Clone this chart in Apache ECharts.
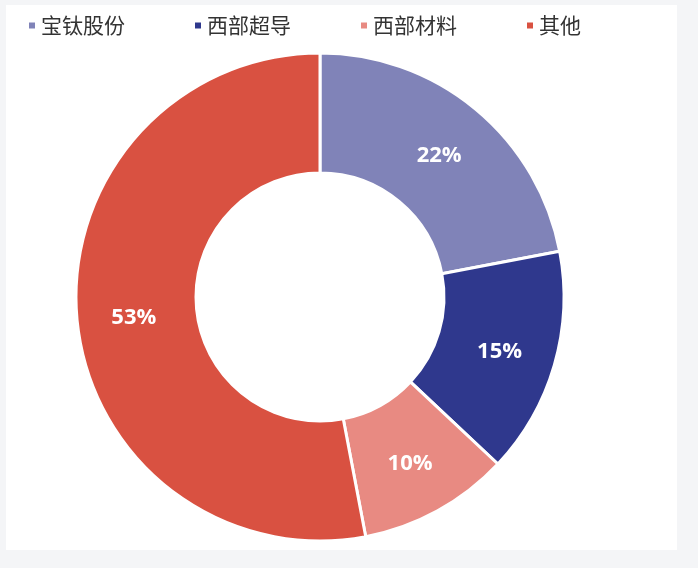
<!DOCTYPE html>
<html>
<head>
<meta charset="utf-8">
<script src="https://cdn.jsdelivr.net/npm/echarts@6/dist/echarts.min.js"></script>
<style>
  html, body { margin: 0; padding: 0; background: #f4f5f7; }
  #main { width: 698px; height: 568px; }
</style>
</head>
<body>
<div id="main"></div>
<script>
var categories = ['宝钛股份', '西部超导', '西部材料', '其他'];
var shares = [22, 15, 10, 53];
var colors = ['#8083b8', '#2f388d', '#e88a82', '#d95141'];

var myChart = echarts.init(document.getElementById('main'));

var pieData = categories.map(function (name, i) {
	return { name: name, value: shares[i] };
});

var option = {
	backgroundColor: '#f4f5f7',
	color: colors,
	graphic: [{
		type: 'rect',
		z: -10,
		shape: { x: 6, y: 5, width: 671, height: 545 },
		style: { fill: '#ffffff' }
	}],
	legend: {
		data: categories,
		left: 22,
		top: 10,
		icon: 'rect',
		itemWidth: 8,
		itemHeight: 8,
		itemGap: 68,
		textStyle: {
			color: '#333333',
			fontSize: 21,
			fontFamily: 'Noto Sans CJK SC'
		}
	},
	series: [{
		type: 'pie',
		center: [320, 297],
		radius: [124, 244],
		startAngle: 90,
		clockwise: true,
		avoidLabelOverlap: false,
		itemStyle: {
			borderColor: '#ffffff',
			borderWidth: 3
		},
		label: {
			show: true,
			position: 'inside',
			color: '#ffffff',
			fontSize: 22,
			fontWeight: 'bold',
			fontFamily: 'Open Sans',
			offset: [0, 3],
			formatter: function (p) {
				return p.value + '%';
			}
		},
		labelLine: { show: false },
		data: pieData
	}]
};
myChart.setOption(option);
</script>
</body>
</html>
